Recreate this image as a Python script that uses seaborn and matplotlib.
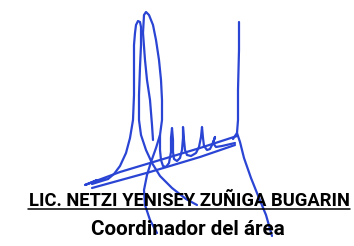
import matplotlib
matplotlib.use("Agg")
import matplotlib.pyplot as plt
import seaborn as sns
import pandas as pd

# trazos de la firma (coordenadas en pixeles de la imagen, y hacia abajo)
upper_line_x = [237, 200, 160, 120, 85, 97, 92, 108]
upper_line_y = [136, 148, 160, 172, 185, 180, 184, 179]

left_loop_x = [108, 114, 120, 126, 130, 133, 134, 134, 134, 135, 136, 138, 140, 141, 141, 140, 139, 139, 141, 146, 152, 160, 172, 186, 197]
left_loop_y = [179, 174, 166, 153, 138, 120, 95, 67, 45, 33, 25, 21, 22, 27, 45, 67, 95, 120, 135, 150, 163, 176, 188, 199, 205]

second_loop_x = [153, 152, 150, 147, 145, 143, 144, 146, 149, 153, 156, 159, 161, 162, 162, 160, 156, 151, 147, 144, 145, 150, 157]
second_loop_y = [140, 125, 100, 80, 60, 33, 15, 12, 15, 25, 40, 60, 80, 100, 120, 135, 148, 162, 175, 190, 205, 220, 233]

humps_x = [160, 160, 161, 163, 166, 169, 171, 171, 172, 173, 173, 174, 177, 180, 182, 183, 183, 184, 185, 187, 191, 196, 199, 201, 202, 203, 204, 207, 210, 212, 214, 215, 213, 216, 222, 235]
humps_y = [135, 150, 160, 166, 167, 163, 152, 138, 128, 140, 152, 159, 161, 158, 150, 138, 127, 140, 150, 155, 156, 153, 147, 137, 127, 138, 146, 150, 149, 145, 140, 137, 143, 147, 146, 143]

lower_line_x = [92, 150, 200, 235]
lower_line_y = [188, 172, 157, 145]

right_stem_x = [239, 239, 238, 238, 237, 233]
right_stem_y = [22, 50, 90, 120, 133, 139]

right_tail_x = [237, 240, 244, 251, 259, 266, 272]
right_tail_y = [133, 142, 158, 178, 198, 215, 236]

name_text = "LIC. NETZI YENISEY ZUÑIGA BUGARIN"
role_text = "Coordinador del área"

strokes = {
    "upper_line": (upper_line_x, upper_line_y),
    "left_loop": (left_loop_x, left_loop_y),
    "second_loop": (second_loop_x, second_loop_y),
    "humps": (humps_x, humps_y),
    "lower_line": (lower_line_x, lower_line_y),
    "right_stem": (right_stem_x, right_stem_y),
    "right_tail": (right_tail_x, right_tail_y),
}

sns.set_style("white")
fig = plt.figure(figsize=(3.54, 2.46), dpi=100)
ax = fig.add_axes([0, 0, 1, 1])
ink = "#2a44d4"

for name, (xs, ys) in strokes.items():
    df = pd.DataFrame({"x": xs, "y": ys})
    sns.lineplot(data=df, x="x", y="y", sort=False, estimator=None,
                 color=ink, linewidth=1.6, ax=ax)

ax.set_xlim(0, 354)
ax.set_ylim(246, 0)
ax.axis("off")


def fit_text(txt, x_center, baseline, target_w):
    t = ax.text(x_center, baseline, txt, ha="center", va="baseline",
                fontsize=14, fontweight="bold", family="Roboto", color="black")
    fig.canvas.draw()
    w = t.get_window_extent().width
    t.set_fontsize(14 * target_w / w)
    return t


name = fit_text(name_text, 189, 206, 322)
role = fit_text(role_text, 187.5, 235, 195)

# subrayado del nombre
ax.plot([28, 350], [208.5, 208.5], color="black", linewidth=1.1)

fig.savefig("out.png", dpi=100)
